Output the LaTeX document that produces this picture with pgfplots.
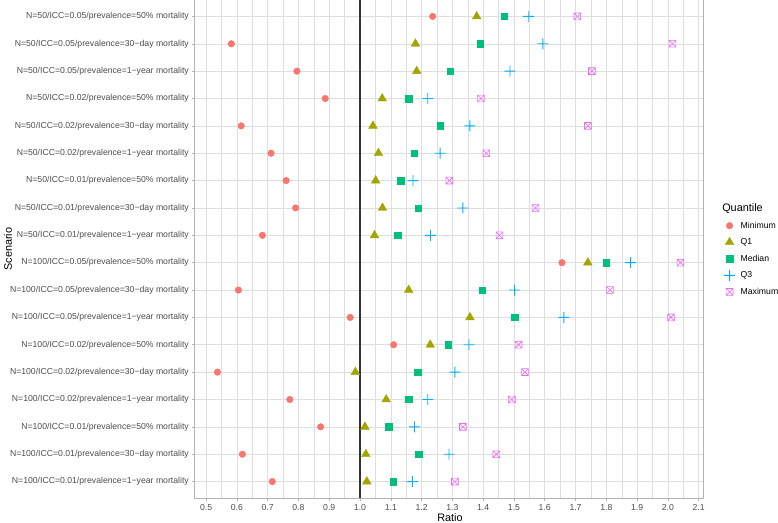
\documentclass[border=0pt]{standalone}
\usepackage{fontspec}
\setmainfont{Liberation Sans}
\usepackage{pgfplots}
\pgfplotsset{compat=1.18}
\usepackage{pgfplotstable}

\definecolor{cmin}{HTML}{F8766D}
\definecolor{cqa}{HTML}{A3A500}
\definecolor{cmed}{HTML}{00BF7D}
\definecolor{cqc}{HTML}{00B0F6}
\definecolor{cmax}{HTML}{E76BF3}
\definecolor{gridc}{HTML}{DEDEDE}
\definecolor{borderc}{HTML}{B3B3B3}
\definecolor{txtc}{HTML}{4D4D4D}
\definecolor{vlinec}{HTML}{333333}

% square with a cross (ggplot shape 7)
\pgfdeclareplotmark{boxx}{%
  \pgfpathrectangle{\pgfpoint{-\pgfplotmarksize}{-\pgfplotmarksize}}{\pgfpoint{2\pgfplotmarksize}{2\pgfplotmarksize}}%
  \pgfpathmoveto{\pgfpoint{-\pgfplotmarksize}{-\pgfplotmarksize}}%
  \pgfpathlineto{\pgfpoint{\pgfplotmarksize}{\pgfplotmarksize}}%
  \pgfpathmoveto{\pgfpoint{-\pgfplotmarksize}{\pgfplotmarksize}}%
  \pgfpathlineto{\pgfpoint{\pgfplotmarksize}{-\pgfplotmarksize}}%
  \pgfusepathqstroke}

% filled plus (ggplot shape 3)
\pgfdeclareplotmark{plusf}{%
  \pgfpathrectangle{\pgfpoint{-\pgfplotmarksize}{-0.45bp}}{\pgfpoint{2\pgfplotmarksize}{0.9bp}}%
  \pgfpathrectangle{\pgfpoint{-0.45bp}{-\pgfplotmarksize}}{\pgfpoint{0.9bp}{2\pgfplotmarksize}}%
  \pgfusepathqfill}

% y = row position (18 = top row)
\pgfplotstableread{
y  mn    qa    med   qc    mx
18 1.236 1.379 1.469 1.548 1.706
17 0.582 1.180 1.390 1.594 2.015
16 0.795 1.184 1.293 1.487 1.753
15 0.887 1.072 1.158 1.220 1.393
14 0.614 1.042 1.260 1.357 1.740
13 0.711 1.060 1.176 1.260 1.410
12 0.760 1.051 1.132 1.172 1.290
11 0.791 1.073 1.189 1.334 1.570
10 0.683 1.047 1.123 1.229 1.453
9  1.656 1.740 1.799 1.879 2.041
8  0.605 1.158 1.397 1.502 1.812
7  0.968 1.357 1.502 1.662 2.010
6  1.109 1.228 1.286 1.354 1.515
5  0.537 0.985 1.187 1.308 1.536
4  0.772 1.085 1.158 1.220 1.493
3  0.872 1.016 1.093 1.177 1.334
2  0.618 1.019 1.191 1.289 1.443
1  0.715 1.022 1.107 1.170 1.308
}\quant

\begin{document}
\begin{tikzpicture}
\useasboundingbox (-195bp,-25bp) rectangle (583bp,498bp);
\begin{axis}[
  scale only axis,
  width=508bp, height=498bp,
  at={(0,0)}, anchor=south west,
  xmin=0.464, xmax=2.114,
  ymin=0.4, ymax=18.6,
  xtick={0.5,0.6,0.7,0.8,0.9,1.0,1.1,1.2,1.3,1.4,1.5,1.6,1.7,1.8,1.9,2.0,2.1},
  minor x tick num=1,
  ytick={1,2,...,18},
  yticklabels={
    N=100/ICC=0.01/prevalence=1−year mortality,
    N=100/ICC=0.01/prevalence=30−day mortality,
    N=100/ICC=0.01/prevalence=50\% mortality,
    N=100/ICC=0.02/prevalence=1−year mortality,
    N=100/ICC=0.02/prevalence=30−day mortality,
    N=100/ICC=0.02/prevalence=50\% mortality,
    N=100/ICC=0.05/prevalence=1−year mortality,
    N=100/ICC=0.05/prevalence=30−day mortality,
    N=100/ICC=0.05/prevalence=50\% mortality,
    N=50/ICC=0.01/prevalence=1−year mortality,
    N=50/ICC=0.01/prevalence=30−day mortality,
    N=50/ICC=0.01/prevalence=50\% mortality,
    N=50/ICC=0.02/prevalence=1−year mortality,
    N=50/ICC=0.02/prevalence=30−day mortality,
    N=50/ICC=0.02/prevalence=50\% mortality,
    N=50/ICC=0.05/prevalence=1−year mortality,
    N=50/ICC=0.05/prevalence=30−day mortality,
    N=50/ICC=0.05/prevalence=50\% mortality},
  grid=both,
  major grid style={color=gridc, line width=0.55bp},
  minor grid style={color=gridc, line width=0.3bp},
  axis line style={color=borderc, line width=1bp},
  tick align=outside, tick pos=left,
  major tick length=2.7bp, minor tick length=0pt,
  tick style={color=borderc, line width=0.55bp},
  ticklabel style={font=\fontsize{8.7}{10}\selectfont, text=txtc},
  xticklabel style={/pgf/number format/.cd, fixed, fixed zerofill, precision=1, assume math mode=true},
  xlabel={Ratio}, ylabel={Scenario},
  label style={font=\fontsize{10.9}{12}\selectfont},
  xlabel style={at={(axis description cs:0.502,-0.040)}, anchor=center},
  ylabel style={at={(axis description cs:-0.368,0.5)}, anchor=center, rotate=0},
  legend cell align=left,
  legend style={at={(axis description cs:1.0395,0.559)}, anchor=north west,
    draw=none, fill=none, inner sep=0pt, row sep=4.9bp,
    font=\fontsize{8.7}{10}\selectfont},
  legend image code/.code={\draw[#1] plot coordinates {(6bp,0bp)}; \path (0bp,0bp) (14.8bp,0bp);},
  clip=false
]
\addplot[forget plot, vlinec, line width=1.5bp] coordinates {(1,0.4) (1,18.6)};
\addplot[only marks, mark=*, mark size=3.3bp, color=cmin] table[x=mn,y=y]{\quant};
\addlegendentry{Minimum}
\addplot[only marks, mark=triangle*, mark size=5bp, color=cqa] table[x=qa,y=y]{\quant};
\addlegendentry{Q1}
\addplot[only marks, mark=square*, mark size=3.2bp, color=cmed] table[x=med,y=y]{\quant};
\addlegendentry{Median}
\addplot[only marks, mark=plusf, mark size=5.5bp, color=cqc, mark options={fill=cqc, draw=none}] table[x=qc,y=y]{\quant};
\addlegendentry{Q3}
\addplot[only marks, mark=boxx, mark size=3.4bp, line width=0.6bp, color=cmax] table[x=mx,y=y]{\quant};
\addlegendentry{Maximum}
\node[anchor=west, font=\fontsize{10.9}{12}\selectfont] at (axis description cs:1.031,0.582) {Quantile};
\end{axis}
\end{tikzpicture}
\end{document}
